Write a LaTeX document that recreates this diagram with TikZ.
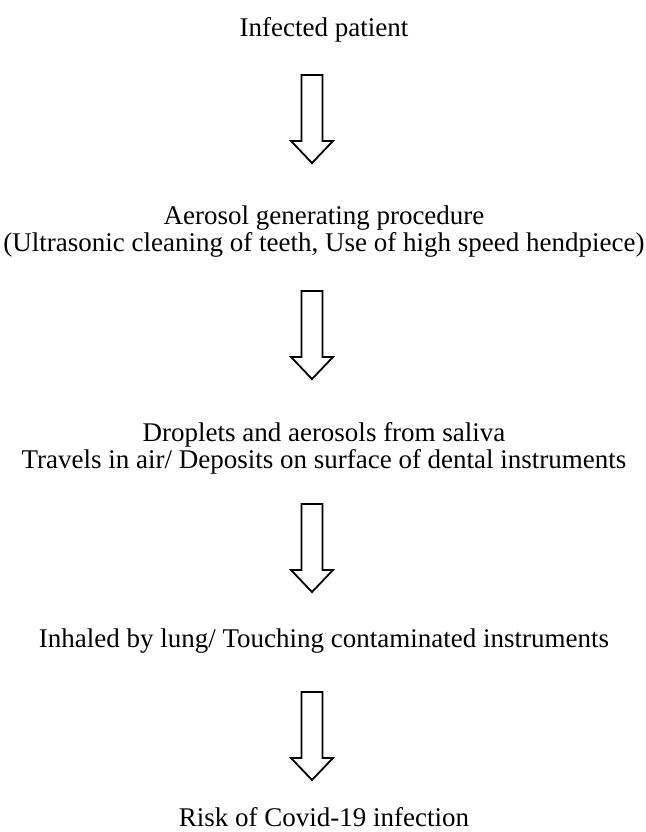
\documentclass[tikz,border=0pt]{standalone}
\usepackage{fontspec}
\setmainfont{Liberation Serif}
\tikzset{
  txt/.style={inner sep=0pt, anchor=base, font=\fontsize{27}{27}\selectfont},
  harrowline/.style={draw=black, line width=1.8pt, line join=miter, fill=white}
}
\newcommand{\hollowdown}[1]{%
  \draw[harrowline] (#1) ++(-10.5,0) -- ++(21,0) -- ++(0,66) -- ++(10.5,0)
    -- ++(-21,22) -- ++(-21,-22) -- ++(10.5,0) -- cycle;}
\begin{document}
\begin{tikzpicture}[x=1pt,y=-1pt]
\useasboundingbox (0,0) rectangle (645,832);
\node[txt] (n1) at (324,37) {Infected patient};
\node[txt] (n2) at (324,224) {\begin{tabular}[t]{@{}c@{}}Aerosol generating procedure\\(Ultrasonic cleaning of teeth, Use of high speed hendpiece)\end{tabular}};
\node[txt] (n3) at (324,441) {\begin{tabular}[t]{@{}c@{}}Droplets and aerosols from saliva\\Travels in air/ Deposits on surface of dental instruments\end{tabular}};
\node[txt] (n4) at (324,647) {Inhaled by lung/ Touching contaminated instruments};
\node[txt] (n5) at (324,826) {Risk of Covid-19 infection};
\coordinate (a1) at (312,75);
\coordinate (a2) at (312,291);
\coordinate (a3) at (312,504);
\coordinate (a4) at (312,692);
\hollowdown{a1}
\hollowdown{a2}
\hollowdown{a3}
\hollowdown{a4}
\end{tikzpicture}
\end{document}
